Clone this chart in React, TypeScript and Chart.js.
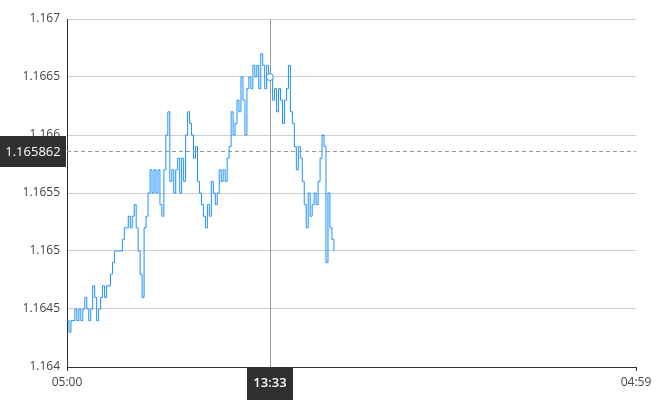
import React, { useEffect, useRef } from "react";
import { Chart, registerables } from "chart.js";
Chart.register(...registerables);

const startTime = "05:00";
const endTime = "04:59";
const stepMinutes = 5;
const prices = [
  1.1644, 1.1643, 1.1644, 1.1644, 1.1645, 1.1644, 1.1645, 1.1644, 1.1645, 1.1646,
  1.1645, 1.1644, 1.1645, 1.1647, 1.1646, 1.1644, 1.1645, 1.1646, 1.1647, 1.1646,
  1.1647, 1.1647, 1.1648, 1.1649, 1.165, 1.165, 1.165, 1.165, 1.1651, 1.1652,
  1.1652, 1.1653, 1.1652, 1.1653, 1.1654, 1.1652, 1.165, 1.1648, 1.1646, 1.1652,
  1.1653, 1.1655, 1.1657, 1.1655, 1.1657, 1.1655, 1.1657, 1.1654, 1.1653, 1.1657,
  1.166, 1.1662, 1.1656, 1.1657, 1.1655, 1.1657, 1.1658, 1.1655, 1.1658, 1.1656,
  1.166, 1.1662, 1.1661, 1.166, 1.1658, 1.1659, 1.1656, 1.1655, 1.1654, 1.1653,
  1.1652, 1.1654, 1.1653, 1.1656, 1.1655, 1.1654, 1.1655, 1.1657, 1.1656, 1.1657,
  1.1656, 1.1658, 1.1659, 1.1662, 1.166, 1.1661, 1.1663, 1.1662, 1.1665, 1.1663,
  1.166, 1.1664, 1.1665, 1.1664, 1.1666, 1.1665, 1.1666, 1.1664, 1.1667, 1.1666,
  1.1664, 1.1666, 1.1665, 1.1665, 1.1663, 1.1664, 1.1662, 1.1664, 1.1663, 1.1661,
  1.1663, 1.1664, 1.1666, 1.1662, 1.1661, 1.1659, 1.1657, 1.1659, 1.1658, 1.1656,
  1.1654, 1.1652, 1.1655, 1.1653, 1.1654, 1.1655, 1.1654, 1.1656, 1.1658, 1.166,
  1.1659, 1.1649, 1.1655, 1.1652, 1.1651, 1.165,
];
const yTicks = [1.164, 1.1645, 1.165, 1.1655, 1.166, 1.1665, 1.167];
const hoverTime = "13:33";
const hoverPrice = 1.1665;
const markerPrice = 1.165862;

const parse = (t: string) => {
  const [h, m] = t.split(":").map(Number);
  return h * 60 + m;
};
const startMin = parse(startTime);
const toOffset = (t: string) => {
  let d = parse(t) - startMin;
  if (d < 0) d += 1440;
  return d;
};
const fmt = (off: number) => {
  const total = (startMin + Math.round(off)) % 1440;
  const h = Math.floor(total / 60);
  const m = total % 60;
  return String(h).padStart(2, "0") + ":" + String(m).padStart(2, "0");
};

const FONT = "'Open Sans', 'Noto Sans', sans-serif";

export default function App() {
  const ref = useRef<HTMLCanvasElement | null>(null);
  useEffect(() => {
    document.body.style.margin = "0";
    const canvas = ref.current!;
    const overlay = {
      id: "overlay",
      afterDatasetsDraw(chart: any) {
        const { ctx, chartArea, scales } = chart;
        const x = scales.x.getPixelForValue(toOffset(hoverTime));
        const yM = scales.y.getPixelForValue(markerPrice);
        ctx.save();
        ctx.lineWidth = 1;
        ctx.strokeStyle = "#999";
        ctx.setLineDash([4, 3]);
        ctx.beginPath();
        ctx.moveTo(chartArea.left, Math.round(yM) + 0.5);
        ctx.lineTo(chartArea.right, Math.round(yM) + 0.5);
        ctx.stroke();
        ctx.setLineDash([]);
        ctx.strokeStyle = "#999";
        ctx.beginPath();
        ctx.moveTo(Math.round(x) + 0.5, chartArea.top);
        ctx.lineTo(Math.round(x) + 0.5, chartArea.bottom);
        ctx.stroke();
        const yH = scales.y.getPixelForValue(hoverPrice);
        ctx.beginPath();
        ctx.arc(x, yH, 3.5, 0, Math.PI * 2);
        ctx.fillStyle = "#fff";
        ctx.fill();
        ctx.strokeStyle = "#1e90ff";
        ctx.stroke();
        ctx.restore();
      },
      afterDraw(chart: any) {
        const { ctx, chartArea, scales } = chart;
        const x = scales.x.getPixelForValue(toOffset(hoverTime));
        const yM = scales.y.getPixelForValue(markerPrice);
        ctx.save();
        ctx.fillStyle = "#303030";
        ctx.fillRect(0, Math.round(yM) - 15, chartArea.left - 1, 31);
        ctx.fillRect(Math.round(x) - 23, chartArea.bottom, 46, 33);
        ctx.fillStyle = "#fff";
        ctx.font = "13px " + FONT;
        ctx.textAlign = "center";
        ctx.textBaseline = "middle";
        ctx.fillText(String(markerPrice), (chartArea.left - 1) / 2, Math.round(yM) + 1);
        ctx.font = "600 13px " + FONT;
        ctx.fillText(hoverTime, Math.round(x), chartArea.bottom + 16);
        ctx.restore();
      },
    };
    const chart = new Chart(canvas, {
      type: "line",
      data: {
        datasets: [
          {
            data: prices.map((p, i) => ({ x: i * stepMinutes, y: p })),
            borderColor: "#1e90ff",
            borderWidth: 1,
            pointRadius: 0,
            stepped: true,
            fill: false,
          },
        ],
      },
      options: {
        animation: false,
        responsive: false,
        layout: { padding: { top: 19, right: 34, left: 0, bottom: 0 } },
        plugins: { legend: { display: false }, tooltip: { enabled: false } },
        scales: {
          x: {
            type: "linear",
            min: 0,
            max: toOffset(endTime),
            afterBuildTicks: (s: any) => {
              s.ticks = [{ value: 0 }, { value: toOffset(endTime) }];
            },
            afterFit: (s: any) => {
              s.height = 33;
            },
            ticks: {
              callback: (v: any) => fmt(Number(v)),
              autoSkip: false,
              maxRotation: 0,
              padding: 4,
              color: "#444",
              font: { size: 12, family: FONT },
            },
            grid: { drawOnChartArea: false, tickLength: 4, color: "#333" },
            border: { color: "#333" },
          },
          y: {
            min: 1.164,
            max: 1.167,
            afterBuildTicks: (s: any) => {
              s.ticks = yTicks.map((v) => ({ value: v }));
            },
            afterFit: (s: any) => {
              s.width = 67;
            },
            ticks: {
              callback: (v: any) => String(v),
              padding: 7,
              color: "#444",
              font: { size: 12, family: FONT },
            },
            grid: { drawTicks: false, color: "#cfcfcf" },
            border: { color: "#333" },
          },
        },
      },
      plugins: [overlay],
    });
    return () => chart.destroy();
  }, []);
  return <canvas ref={ref} width={670} height={400} style={{ display: "block" }} />;
}
